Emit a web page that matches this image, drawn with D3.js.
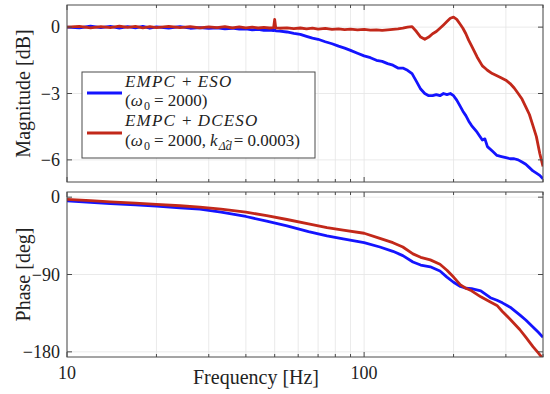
<!DOCTYPE html>
<html>
<head>
<meta charset="utf-8">
<script src="https://cdn.jsdelivr.net/npm/d3@7"></script>
</head>
<body style="margin:0">
<script>
// frequency grid (Hz) for the magnitude curves
var magFreq = [10, 11, 12, 13, 14, 15, 16, 17, 18, 19, 20, 22, 24, 26, 28, 30, 32, 34, 36, 38, 40, 42, 44, 46, 48, 49.6, 50, 50.4, 52, 55, 58, 61, 64, 67, 70, 74, 78, 82, 86, 90, 95, 100, 105, 110, 115, 120, 125, 130, 135, 140, 145, 150, 155, 160, 165, 170, 175, 180, 185, 190, 195, 200, 205, 210, 215, 220, 225, 230, 240, 250, 255, 260, 270, 280, 290, 300, 310, 320, 330, 340, 350, 360, 370, 380, 390, 400];

// magnitude [dB], EMPC + ESO
var magESO = [0.00, -0.03, 0.04, -0.02, 0.03, -0.04, 0.02, -0.03, 0.03, -0.05, 0.01, -0.04, 0.02, -0.05, -0.02, -0.06, -0.03, -0.08, -0.05, -0.09, -0.08, -0.12, -0.10, -0.15, -0.13, -0.16, -0.12, -0.17, -0.18, -0.22, -0.28, -0.33, -0.42, -0.50, -0.55, -0.66, -0.75, -0.86, -0.95, -1.05, -1.18, -1.30, -1.38, -1.50, -1.55, -1.65, -1.72, -1.85, -1.85, -1.95, -2.10, -2.45, -2.80, -3.00, -3.10, -3.10, -3.05, -3.10, -3.00, -3.05, -3.00, -3.10, -3.30, -3.55, -3.80, -4.00, -4.25, -4.45, -4.75, -5.10, -5.05, -5.40, -5.60, -5.80, -5.85, -5.90, -5.95, -5.95, -6.00, -6.10, -6.20, -6.35, -6.50, -6.60, -6.70, -6.85];

// magnitude [dB], EMPC + DCESO
var magDCESO = [0.00, 0.03, -0.03, 0.02, -0.02, 0.04, -0.01, 0.03, -0.03, 0.02, -0.02, 0.03, -0.02, 0.02, -0.03, 0.01, -0.02, 0.02, -0.03, 0.01, -0.03, 0.00, -0.04, -0.01, -0.04, -0.02, 0.35, -0.03, -0.05, -0.03, -0.07, -0.04, -0.08, -0.05, -0.09, -0.06, -0.10, -0.08, -0.11, -0.09, -0.12, -0.10, -0.14, -0.12, -0.15, -0.12, -0.10, -0.08, -0.05, 0.00, 0.02, -0.20, -0.45, -0.55, -0.45, -0.30, -0.20, -0.05, 0.10, 0.25, 0.40, 0.45, 0.35, 0.15, -0.05, -0.30, -0.60, -0.85, -1.35, -1.75, -1.85, -1.95, -2.10, -2.20, -2.30, -2.40, -2.55, -2.75, -3.00, -3.25, -3.60, -3.95, -4.45, -4.95, -5.70, -6.30];

// frequency grid (Hz) for the phase curves
var phaseFreq = [10, 12, 14, 17, 20, 24, 28, 33, 40, 47, 55, 65, 75, 85, 100, 113, 125, 135, 146, 155, 167, 180, 190, 200, 211, 220, 230, 247, 266, 280, 292, 310, 334, 350, 370, 385, 400];

// phase [deg]
var phaseESO = [-4.3, -6, -7.5, -9, -10.5, -12.5, -14, -17.5, -22.5, -28, -33.5, -40, -45, -48.5, -53, -58, -63, -68, -75.5, -79, -81, -86, -93, -99, -104, -106, -106.5, -109, -117, -120, -123, -128, -137, -143, -151, -157, -163];
var phaseDCESO = [-2.5, -4, -5.5, -7, -8.5, -10, -11.5, -14, -17.5, -21.5, -26, -31, -35.5, -38.5, -42, -48, -53, -58, -66, -70, -73, -78, -85, -93, -102, -106, -109, -116, -122, -126, -133, -142, -154, -163, -174, -181, -188];

// axis ticks
var xMajor = [10, 100];
var xMinor = [20, 30, 40, 50, 60, 70, 80, 90, 200, 300, 400];
var magTicks = [0, -3, -6];
var phaseTicks = [0, -90, -180];

var width = 550, height = 394;
var left = 67, right = 543;
var blue = "#1414ff", red = "#c2281a";

var svg = d3.select("body").append("svg")
    .attr("width", width)
    .attr("height", height);

var x = d3.scaleLog().domain([10, 400]).range([left, right]);

function txt(sel, size) {
    return sel.append("text")
        .attr("font-family", "Liberation Serif")
        .attr("font-size", size)
        .attr("fill", "#222");
}

function panel(id, top, bottom, domain, ticks, series, label) {
    var y = d3.scaleLinear().domain(domain).range([bottom, top]);
    var g = svg.append("g");

    g.append("clipPath").attr("id", id)
        .append("rect")
        .attr("x", left).attr("y", top)
        .attr("width", right - left).attr("height", bottom - top);

    // grid
    g.selectAll(".vg").data(xMajor.concat(xMinor)).enter().append("line")
        .attr("x1", function(d) { return x(d); }).attr("x2", function(d) { return x(d); })
        .attr("y1", top).attr("y2", bottom)
        .attr("stroke", "#e4e4e4").attr("stroke-width", 0.8);
    g.selectAll(".hg").data(ticks).enter().append("line")
        .attr("x1", left).attr("x2", right)
        .attr("y1", function(d) { return y(d); }).attr("y2", function(d) { return y(d); })
        .attr("stroke", "#e4e4e4").attr("stroke-width", 0.8);

    // curves
    var line = d3.line()
        .x(function(d) { return x(d[0]); })
        .y(function(d) { return y(d[1]); });
    series.forEach(function(s) {
        g.append("path")
            .datum(d3.zip(s.f, s.v))
            .attr("clip-path", "url(#" + id + ")")
            .attr("fill", "none")
            .attr("stroke", s.color)
            .attr("stroke-width", 2.8)
            .attr("stroke-linejoin", "round")
            .attr("d", line);
    });

    // frame
    g.append("rect")
        .attr("x", left).attr("y", top)
        .attr("width", right - left).attr("height", bottom - top)
        .attr("fill", "none").attr("stroke", "#4a4a4a").attr("stroke-width", 1);

    // inward ticks, all four sides
    var xt = xMajor.map(function(d) { return [d, 5]; }).concat(xMinor.map(function(d) { return [d, 3]; }));
    g.selectAll(".xtb").data(xt).enter().append("line")
        .attr("x1", function(d) { return x(d[0]); }).attr("x2", function(d) { return x(d[0]); })
        .attr("y1", bottom).attr("y2", function(d) { return bottom - d[1]; })
        .attr("stroke", "#4a4a4a");
    g.selectAll(".xtt").data(xt).enter().append("line")
        .attr("x1", function(d) { return x(d[0]); }).attr("x2", function(d) { return x(d[0]); })
        .attr("y1", top).attr("y2", function(d) { return top + d[1]; })
        .attr("stroke", "#4a4a4a");
    g.selectAll(".ytl").data(ticks).enter().append("line")
        .attr("x1", left).attr("x2", left + 5)
        .attr("y1", function(d) { return y(d); }).attr("y2", function(d) { return y(d); })
        .attr("stroke", "#4a4a4a");
    g.selectAll(".ytr").data(ticks).enter().append("line")
        .attr("x1", right).attr("x2", right - 5)
        .attr("y1", function(d) { return y(d); }).attr("y2", function(d) { return y(d); })
        .attr("stroke", "#4a4a4a");

    // tick labels
    ticks.forEach(function(d) {
        txt(g, 18)
            .attr("x", left - 7)
            .attr("y", y(d) + 6)
            .attr("text-anchor", "end")
            .text(d < 0 ? "\u2212" + Math.abs(d) : d);
    });

    // axis label
    txt(g, 20)
        .attr("transform", "translate(30," + ((top + bottom) / 2) + ") rotate(-90)")
        .attr("text-anchor", "middle")
        .text(label);
    return y;
}

panel("clipMag", 5, 182, [-7, 1], magTicks, [
    {f: magFreq, v: magESO, color: blue},
    {f: magFreq, v: magDCESO, color: red}
], "Magnitude [dB]");

panel("clipPhase", 192, 357, [-186, 6], phaseTicks, [
    {f: phaseFreq, v: phaseESO, color: blue},
    {f: phaseFreq, v: phaseDCESO, color: red}
], "Phase [deg]");

// x tick labels and label
xMajor.forEach(function(d) {
    txt(svg, 18)
        .attr("x", x(d))
        .attr("y", 379)
        .attr("text-anchor", "middle")
        .text(d);
});
txt(svg, 20)
    .attr("x", 256).attr("y", 384)
    .attr("text-anchor", "middle")
    .text("Frequency [Hz]");

// legend
var leg = svg.append("g");
leg.append("rect")
    .attr("x", 82).attr("y", 72).attr("width", 233).attr("height", 86)
    .attr("fill", "#fff").attr("stroke", "#4a4a4a").attr("stroke-width", 1);
leg.append("line").attr("x1", 87).attr("x2", 122).attr("y1", 93).attr("y2", 93)
    .attr("stroke", blue).attr("stroke-width", 2.8);
leg.append("line").attr("x1", 87).attr("x2", 122).attr("y1", 133).attr("y2", 133)
    .attr("stroke", red).attr("stroke-width", 2.8);

// parts: [text, kind, dx, dy]
function mathLine(y, parts) {
    var t = txt(leg, 17).attr("x", 125).attr("y", y);
    parts.forEach(function(p) {
        var s = t.append("tspan").text(p[0]);
        if (p[1] == "i") s.attr("font-style", "italic").attr("letter-spacing", 1.2);
        if (p[1] == "si") s.attr("font-size", 12).attr("font-style", "italic");
        if (p[1] == "s") s.attr("font-size", 12);
        if (p[2]) s.attr("dx", p[2]);
        if (p[3]) s.attr("dy", p[3]);
    });
}
mathLine(87, [["EMPC", "i"], ["+", "", 6], ["ESO", "i", 6]]);
mathLine(106, [["(", ""], ["\u03c9", "i"], ["0", "s", 0, 4], ["= 2000)", "", 4, -4]]);
mathLine(126, [["EMPC", "i"], ["+", "", 6], ["DCESO", "i", 6]]);
mathLine(146, [["(", ""], ["\u03c9", "i"], ["0", "s", 0, 4], ["= 2000,", "", 4, -4], ["k", "i", 4],
    ["\u0394d", "si", 0, 4], ["\u02c6", "s", -6, -1], ["= 0.0003)", "", 4, -3]]);
</script>
</body>
</html>
